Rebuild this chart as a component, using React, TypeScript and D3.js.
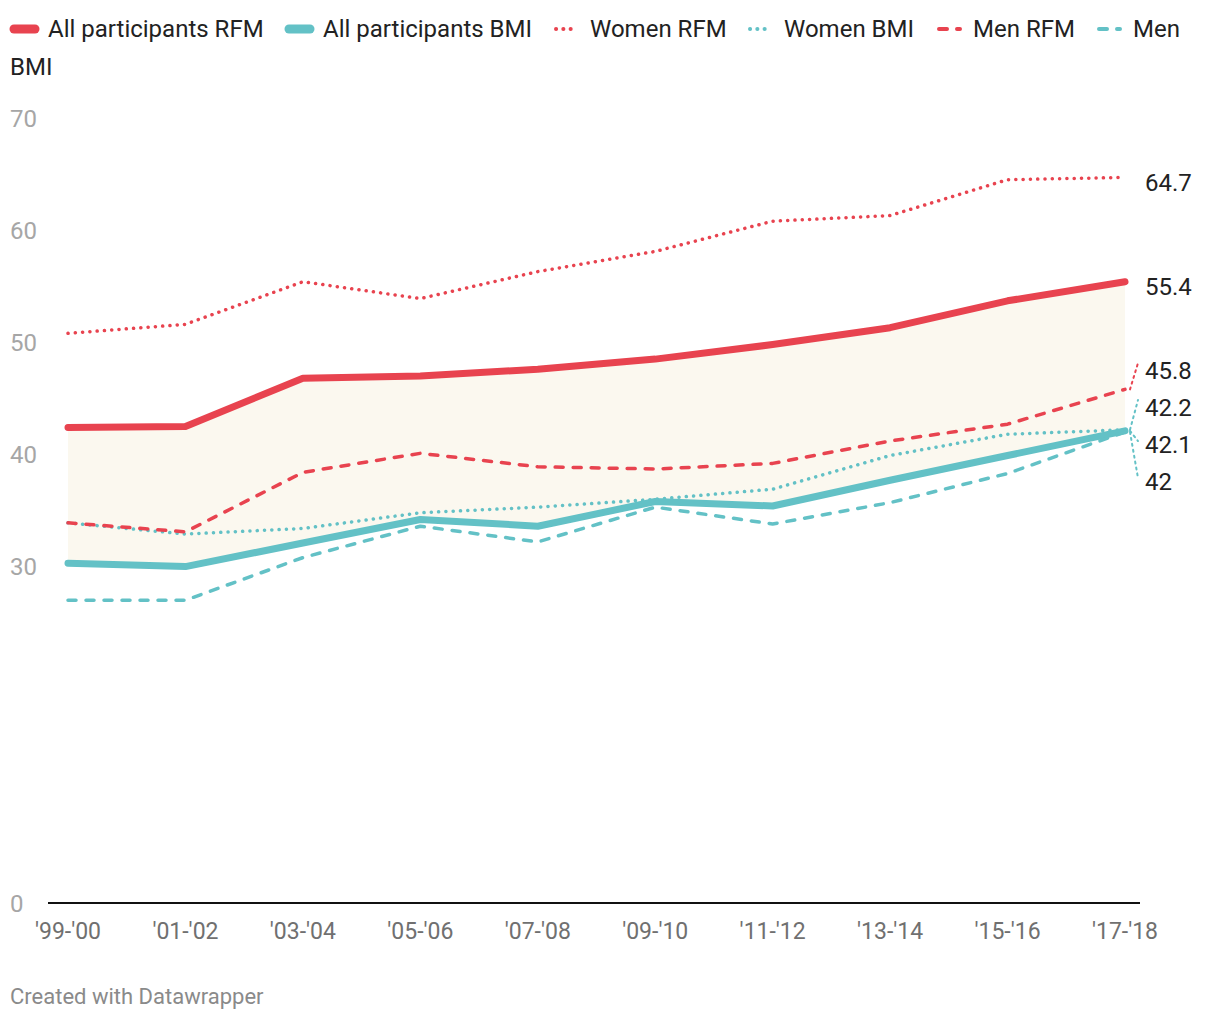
import React from "react";
import * as d3 from "d3";

// survey cycles
const cycles = ["'99-'00", "'01-'02", "'03-'04", "'05-'06", "'07-'08", "'09-'10", "'11-'12", "'13-'14", "'15-'16", "'17-'18"];

const allRFM = [42.4, 42.5, 46.8, 47.0, 47.6, 48.5, 49.8, 51.3, 53.7, 55.4];
const allBMI = [30.3, 30.0, 32.1, 34.2, 33.6, 35.8, 35.4, 37.7, 39.9, 42.1];
const womenRFM = [50.8, 51.6, 55.4, 53.9, 56.3, 58.1, 60.8, 61.3, 64.5, 64.7];
const womenBMI = [33.9, 32.9, 33.4, 34.8, 35.3, 36.0, 36.9, 39.9, 41.8, 42.2];
const menRFM = [33.9, 33.1, 38.4, 40.1, 38.9, 38.7, 39.2, 41.2, 42.7, 45.8];
const menBMI = [27.0, 27.0, 30.8, 33.6, 32.2, 35.3, 33.8, 35.7, 38.3, 42.0];

const yTicks = [0, 30, 40, 50, 60, 70];

const RED = "#e8434f";
const TEAL = "#63c1c6";

type Style = "solid" | "dotted" | "dashed";
interface Series { name: string; values: number[]; color: string; style: Style; }

const series: Series[] = [
  { name: "All participants RFM", values: allRFM, color: RED, style: "solid" },
  { name: "All participants BMI", values: allBMI, color: TEAL, style: "solid" },
  { name: "Women RFM", values: womenRFM, color: RED, style: "dotted" },
  { name: "Women BMI", values: womenBMI, color: TEAL, style: "dotted" },
  { name: "Men RFM", values: menRFM, color: RED, style: "dashed" },
  { name: "Men BMI", values: menBMI, color: TEAL, style: "dashed" },
];

// legend layout (x of swatch start)
const legendX = [10, 285, 552, 746, 935, 1095];

const strokeProps = (s: Style) => {
  if (s === "solid") return { strokeWidth: 7, strokeLinecap: "round" as const };
  if (s === "dotted") return { strokeWidth: 3.5, strokeLinecap: "round" as const, strokeDasharray: "0.1,7.2" };
  return { strokeWidth: 3.5, strokeLinecap: "round" as const, strokeDasharray: "8,10" };
};

const FONT = "Roboto, 'Noto Sans', sans-serif";

export default function App() {
  const W = 1220, H = 1020;
  const x = d3.scalePoint<string>().domain(cycles).range([68, 1125]);
  const y = d3.scaleLinear().domain([0, 70]).range([903, 118]);

  const line = d3.line<number>().x((_, i) => x(cycles[i])!).y((d) => y(d));
  const area = d3.area<number>()
    .x((_, i) => x(cycles[i])!)
    .y0((_, i) => y(allBMI[i]))
    .y1((d) => y(d));

  // end labels with simple collision avoidance
  const last = cycles.length - 1;
  const gap = 37;
  const labels = series
    .map((s) => ({ s, v: s.values[last], want: y(s.values[last]) + 5 }))
    .sort((a, b) => a.want - b.want);
  let groups = labels.map((l) => ({ items: [l], center: l.want }));
  let merged = true;
  while (merged) {
    merged = false;
    for (let i = 0; i < groups.length - 1; i++) {
      const a = groups[i], b = groups[i + 1];
      const aEnd = a.center + ((a.items.length - 1) * gap) / 2;
      const bStart = b.center - ((b.items.length - 1) * gap) / 2;
      if (bStart - aEnd < gap) {
        const items = [...a.items, ...b.items];
        const center = d3.mean(items, (d) => d.want)!;
        groups.splice(i, 2, { items, center });
        merged = true;
        break;
      }
    }
  }
  const placed = groups.flatMap((g) =>
    g.items.map((it, k) => ({ ...it, ly: g.center + (k - (g.items.length - 1) / 2) * gap }))
  );

  return (
    <svg width={W} height={H} style={{ position: "absolute", left: 0, top: 0, background: "#fff" }} fontFamily={FONT}>
      {/* legend */}
      {series.map((s, i) => {
        const lx = legendX[i];
        const sp = strokeProps(s.style);
        return (
          <g key={s.name}>
            <line x1={lx + 4} x2={lx + 25} y1={29} y2={29} stroke={s.color} {...sp}
              strokeWidth={s.style === "solid" ? 9 : 4} strokeDasharray={s.style === "dotted" ? "0.1,7.2" : s.style === "dashed" ? "8,10" : undefined} />
            <text x={lx + 38} y={37} fontSize={24} fill="#222">{i === 5 ? "Men" : s.name}</text>
          </g>
        );
      })}
      <text x={10} y={75} fontSize={24} fill="#222">BMI</text>

      {/* y axis labels */}
      {yTicks.map((t) => (
        <text key={t} x={10} y={y(t) + 8.5} fontSize={24} fill="#a6a6a6">{t}</text>
      ))}

      {/* area between all participants RFM and BMI */}
      <path d={area(allRFM)!} fill="#fbf8ef" />

      {/* baseline */}
      <line x1={48} x2={1140} y1={y(0)} y2={y(0)} stroke="#111" strokeWidth={2} />

      {/* x labels */}
      {cycles.map((c) => (
        <text key={c} x={x(c)} y={939} fontSize={23} fill="#707070" textAnchor="middle">{c}</text>
      ))}

      {/* lines */}
      {series.map((s) => (
        <path key={s.name} d={line(s.values)!} fill="none" stroke={s.color} {...strokeProps(s.style)}
          strokeLinejoin="round" />
      ))}

      {/* end labels */}
      {placed.map((p) => {
        const ex = x(cycles[last])!;
        const ey = y(p.v);
        const moved = Math.abs(p.ly - p.want) > 3;
        return (
          <g key={p.s.name}>
            {moved && (
              <line x1={ex + 5} y1={ey} x2={ex + 13} y2={p.ly - 5 + (p.ly > ey ? 2 : -2)}
                stroke={p.s.color} strokeWidth={2} strokeDasharray="2,4" strokeLinecap="round" />
            )}
            <text x={1145} y={p.ly + 8.5} fontSize={24} fill="#222">{p.v}</text>
          </g>
        );
      })}

      <text x={10} y={1004} fontSize={22} fill="#8a8a8a">Created with Datawrapper</text>
    </svg>
  );
}
